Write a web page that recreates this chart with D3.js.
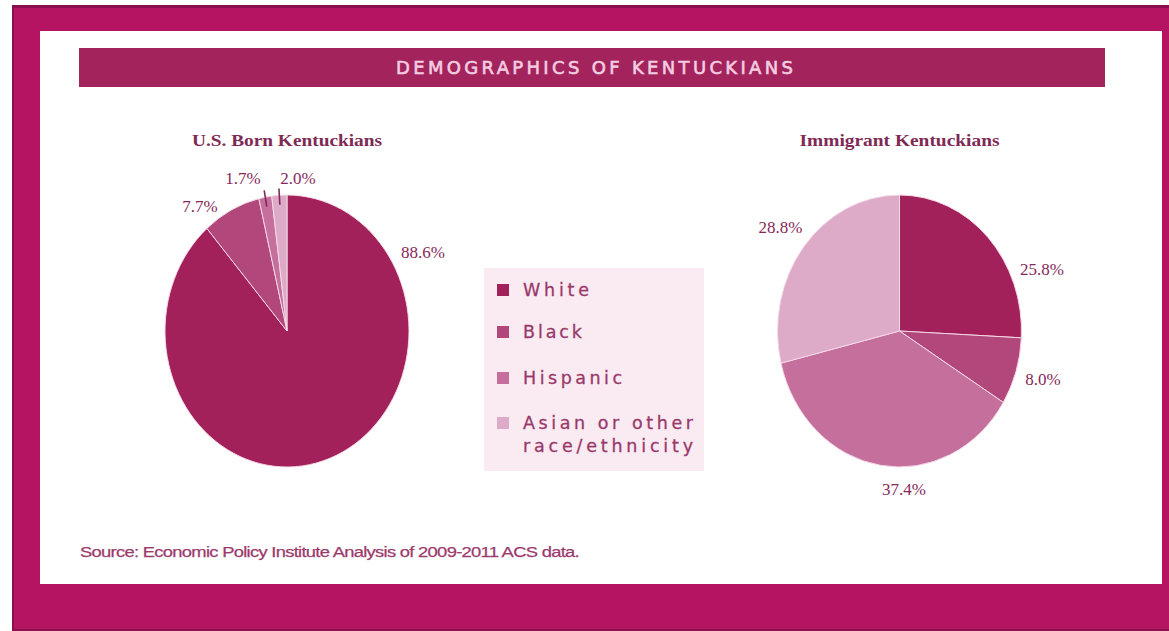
<!DOCTYPE html>
<html>
<head>
<meta charset="utf-8">
<script src="https://cdn.jsdelivr.net/npm/d3@7"></script>
<style>
  html, body { margin: 0; padding: 0; background: #ffffff; }
  svg { display: block; }
</style>
</head>
<body>
<svg id="chart" width="1169" height="631"></svg>
<script>
// ---- data ----
const categories = ["White", "Black", "Hispanic", "Asian or other race/ethnicity"];
const usBornValues = [88.6, 7.7, 1.7, 2.0];
const immigrantValues = [25.8, 8.0, 37.4, 28.8];
const chartTitle = "DEMOGRAPHICS OF KENTUCKIANS";
const pieTitles = ["U.S. Born Kentuckians", "Immigrant Kentuckians"];
const legendLines = [["White"], ["Black"], ["Hispanic"], ["Asian or other", "race/ethnicity"]];
const sourceNote = "Source: Economic Policy Institute Analysis of 2009-2011 ACS data.";

// ---- styling / layout ----
const colors = ["#a2215b", "#b2477b", "#c56f9c", "#ddaac8"];
const textColor = "#86295a";

const svg = d3.select("#chart");

// outer frame
svg.append("rect").attr("x", 12).attr("y", 5).attr("width", 1157).attr("height", 626)
  .attr("fill", "#8c0f4d");
svg.append("rect").attr("x", 14).attr("y", 8).attr("width", 1155).attr("height", 621)
  .attr("fill", "#b41462");
// white panel
svg.append("rect").attr("x", 40).attr("y", 31).attr("width", 1122).attr("height", 553)
  .attr("fill", "#ffffff");

// header bar
svg.append("rect").attr("x", 79).attr("y", 48).attr("width", 1026).attr("height", 39)
  .attr("fill", "#a3245d");
svg.append("text")
  .attr("x", 396).attr("y", 74)
  .attr("textLength", 397).attr("lengthAdjust", "spacing")
  .attr("font-family", "'DejaVu Sans', sans-serif")
  .attr("font-size", 18)
  .attr("stroke", "#f4cde0")
  .attr("stroke-width", 0.6)
  .attr("fill", "#f4cde0")
  .text(chartTitle);

// pies
const pie = d3.pie().sort(null).value(d => d);
const ry = 136, rx = 122;
const arc = d3.arc().innerRadius(0).outerRadius(ry);

function drawPie(values, cx, cy, title, titleWidth, labelOffsets) {
  const g = svg.append("g").attr("transform", `translate(${cx},${cy})`);
  const squash = g.append("g").attr("transform", `scale(${rx / ry},1)`);
  const arcs = pie(values);
  squash.selectAll("path").data(arcs).join("path")
    .attr("d", arc)
    .attr("fill", (d, i) => colors[i])
    .attr("stroke", "#f6dbe8")
    .attr("stroke-width", 1);

  g.append("text")
    .attr("x", 0).attr("y", -185)
    .attr("text-anchor", "middle")
    .attr("textLength", titleWidth).attr("lengthAdjust", "spacingAndGlyphs")
    .attr("font-family", "'Liberation Serif', serif")
    .attr("font-weight", "bold")
    .attr("font-size", 17)
    .attr("fill", "#7e2a55")
    .text(title);

  g.selectAll("text.pct").data(arcs).join("text")
    .attr("class", "pct")
    .attr("x", (d, i) => labelOffsets[i][0])
    .attr("y", (d, i) => labelOffsets[i][1])
    .attr("text-anchor", "middle")
    .attr("font-family", "'Liberation Serif', serif")
    .attr("font-size", 17)
    .attr("fill", textColor)
    .text(d => d.value.toFixed(1) + "%");
  return { g, arcs };
}

const left = drawPie(usBornValues, 287, 331, pieTitles[0], 190,
  [[136, -73], [-87, -119], [-44, -147], [11, -147]]);
drawPie(immigrantValues, 899.5, 331, pieTitles[1], 200,
  [[142.5, -56], [143.5, 54], [4.5, 164], [-119, -98]]);

// leader ticks for the two thin slices of the first pie
const tickArcOuter = d3.arc().innerRadius(ry * 1.05).outerRadius(ry * 1.05);
const tickArcInner = d3.arc().innerRadius(ry * 0.93).outerRadius(ry * 0.93);
left.g.selectAll("line.tick").data(left.arcs.slice(2)).join("line")
  .attr("class", "tick")
  .attr("x1", d => tickArcOuter.centroid(d)[0] * rx / ry)
  .attr("y1", d => tickArcOuter.centroid(d)[1])
  .attr("x2", d => tickArcInner.centroid(d)[0] * rx / ry)
  .attr("y2", d => tickArcInner.centroid(d)[1])
  .attr("stroke", "#7e2a55")
  .attr("stroke-width", 1.6);

// legend
svg.append("rect").attr("x", 484).attr("y", 268).attr("width", 220).attr("height", 203)
  .attr("fill", "#faebf2");
const legendY = [296, 338, 384, 429];
const legendWidths = [[66], [59], [99], [170, 170]];
const lg = svg.append("g");
categories.forEach((c, i) => {
  lg.append("rect")
    .attr("x", 497).attr("y", legendY[i] - 12)
    .attr("width", 12).attr("height", 12)
    .attr("fill", colors[i]);
  legendLines[i].forEach((line, j) => {
    lg.append("text")
      .attr("x", 523).attr("y", legendY[i] + j * 23)
      .attr("textLength", legendWidths[i][j]).attr("lengthAdjust", "spacing")
      .attr("font-family", "'DejaVu Sans', sans-serif")
      .attr("font-size", 17.5)
      .attr("stroke", "#99396a")
      .attr("stroke-width", 0.3)
      .attr("fill", "#99396a")
      .text(line);
  });
});

// source note
svg.append("text")
  .attr("x", 80).attr("y", 557)
  .attr("textLength", 499).attr("lengthAdjust", "spacingAndGlyphs")
  .attr("font-family", "'Liberation Sans Narrow', 'Liberation Sans', sans-serif")
  .attr("font-size", 15.5)
  .attr("letter-spacing", -0.6)
  .attr("stroke", "#9c3a6c")
  .attr("stroke-width", 0.25)
  .attr("fill", "#9c3a6c")
  .text(sourceNote);
</script>
</body>
</html>
